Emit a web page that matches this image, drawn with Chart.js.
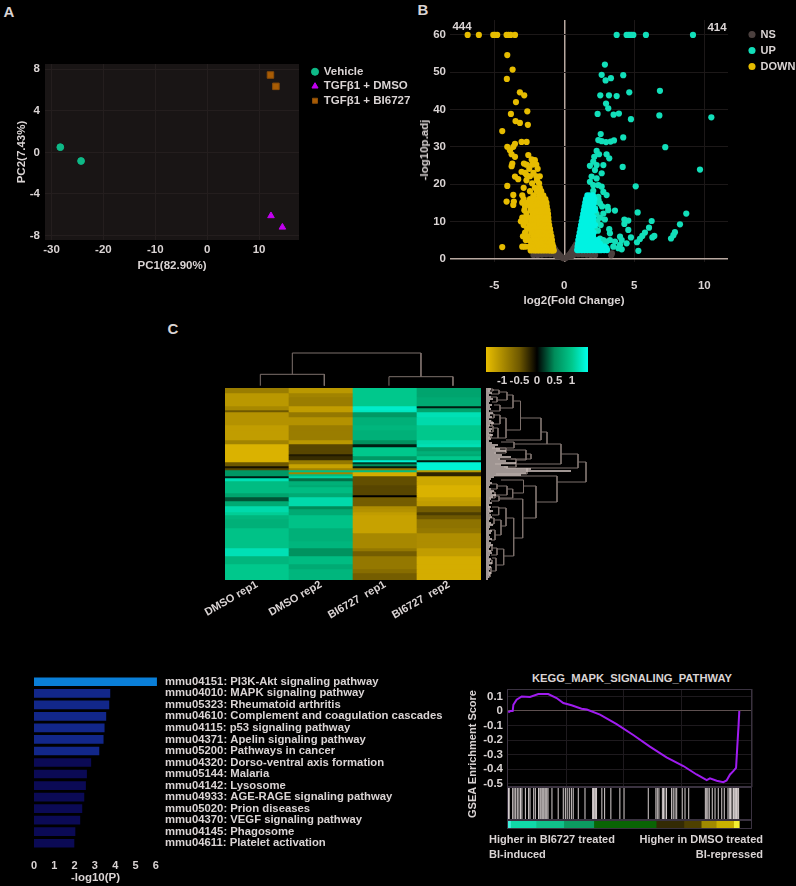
<!DOCTYPE html>
<html>
<head>
<meta charset="utf-8">
<title>BI6727 figure</title>
<script src="https://cdn.jsdelivr.net/npm/chart.js@4"></script>
<style>
  html, body { margin: 0; padding: 0; background: #000; }
  #page { position: relative; width: 796px; height: 886px; overflow: hidden; background: #000; }
  #page canvas { position: absolute; }
  .txt { position: absolute; white-space: nowrap; color: #dad4d4; font: bold 11.5px "Liberation Sans", Arial, sans-serif; transform: translate(-50%, -50%); }
</style>
</head>
<body>
<div id="page"></div>
<script>
// ---------- panel A: PCA ----------
const vehicleX = [-28.3, -24.3];
const vehicleY = [0.5, -0.83];
const dmsoX = [12.3, 14.5];
const dmsoY = [-6.1, -7.2];
const biX = [12.2, 13.25];
const biY = [7.44, 6.35];

// ---------- panel B: volcano ----------
const nsX = [-2.2, -1.9, -1.6, -1.3, -1, -0.85, -0.8, -0.75, -0.65, -0.65, -0.55, -0.5, -0.45, -0.35, -0.25, -0.15, -0.05, 0.05, 0.15, 0.25, 0.35, 0.45, 0.5, 0.55, 0.65, 0.65, 0.75, 0.8, 0.85, 1, 1.3, 1.6, 1.9, 2.2, 3.35, 3.4];
const nsY = [1, 1, 1.1, 1.2, 1.2, 3.6, 1.5, 3, 2.4, 1, 1.9, 0.6, 1.4, 1, 0.6, 0.3, 0.1, 0.1, 0.3, 0.6, 1, 1.5, 0.6, 2, 2.6, 1, 3.2, 1.5, 3.8, 1.2, 1.2, 1.1, 1, 1, 0.9, 1.4];

const upX = [3.74, 4.45, 4.57, 4.69, 4.81, 4.93, 5.83, 9.19, 2.9, 2.67, 3.33, 2.95, 4.21, 6.83, 4.64, 2.57, 3.19, 3.74, 2.98, 3.14, 2.38, 3.52, 3.9, 6.79, 10.5, 4.76, 2.6, 4.21, 2.43, 2.67, 2.98, 3.31, 3.55, 7.21, 2.31, 2.48, 3.02, 3.21, 2.14, 2.07, 4.17, 1.83, 2.31, 2.79, 9.69, 2.19, 2.67, 1.95, 2.31, 1.83, 5.1, 2.07, 2.43, 2.67, 2.07, 2.79, 3.02, 2.43, 3.62, 3.1, 3.14, 5.24, 8.71, 2.79, 6.24, 4.29, 4.57, 4.29, 8.26, 4.57, 3.21, 6.05, 4.76, 5.76, 5.57, 5.4, 5.19, 6.43, 6.29, 7.9, 7.79, 7.62, 5.29, 3.98, 4.1, 4.45, 3.98, 3.86, 4.1, 3.26, 3.62, 3.26, 3.02, 2.79, 2.55, 3.5, 3.02, 2.55, 2.79, 2.55, 2.2, 2.45, 2.7, 2.3, 2.55, 2.9, 2.35, 2.6, 2.2, 2.4, 2.15, 2.35];
const upY = [60, 60, 60, 60, 60, 60, 60, 60, 52.05, 49.3, 48.4, 47.8, 49.2, 45, 44.6, 43.8, 43.8, 43.6, 41.6, 40.3, 38.8, 38.6, 38.9, 38.4, 37.9, 37.4, 33.4, 32.5, 31.8, 31.5, 31.25, 31.4, 31.7, 29.9, 28.9, 28, 28, 26.9, 27.3, 26, 24.6, 24.9, 25.1, 25.1, 23.9, 23.75, 22.9, 22, 21.5, 20.6, 19.4, 19.7, 19.7, 19.3, 18.2, 17.9, 17.05, 16.6, 12.9, 13.9, 13, 12.4, 12.1, 12.1, 10.1, 10.5, 10.2, 9.3, 9.2, 7.7, 7.9, 8.3, 5.7, 7, 6.1, 5.3, 4.4, 6.1, 5.7, 7.1, 6.3, 5.4, 2.1, 5.9, 5, 4.1, 3.7, 2.8, 2.5, 6.8, 4.6, 5, 4.6, 5, 5.4, 3.2, 2.8, 2.3, 3.7, 14.8, 13.5, 15.7, 14, 12, 11, 10.5, 10, 9, 8, 7.5, 15, 16];

const upBodyY = [17, 16, 15, 14, 13, 12, 11, 10, 9, 8, 7, 6, 5, 4, 3.2, 2.3];
const upBodyX = [
  [1.65, 1.85, 2.05],
  [1.55, 1.75, 1.95, 2.15],
  [1.5, 1.7, 1.9, 2.1],
  [1.45, 1.65, 1.85, 2.05],
  [1.4, 1.6, 1.8, 2, 2.2],
  [1.35, 1.55, 1.75, 1.95],
  [1.3, 1.5, 1.7, 1.9, 2.1],
  [1.25, 1.45, 1.65, 1.85, 2.05],
  [1.2, 1.4, 1.6, 1.8, 2, 2.2],
  [1.15, 1.35, 1.55, 1.75, 1.95],
  [1.1, 1.3, 1.5, 1.7, 1.9, 2.1],
  [1.05, 1.25, 1.45, 1.65, 1.85, 2.05],
  [1, 1.2, 1.4, 1.6, 1.8, 2, 2.2, 2.4],
  [0.98, 1.15, 1.35, 1.55, 1.75, 1.95, 2.15, 2.35, 2.55],
  [0.95, 1.1, 1.3, 1.5, 1.7, 1.9, 2.1, 2.3, 2.5, 2.7, 2.9],
  [0.92, 1.05, 1.25, 1.45, 1.65, 1.85, 2.05, 2.25, 2.45, 2.65, 2.85, 3.05]
];

const downX = [-6.9, -6.1, -5.07, -4.95, -4.79, -4.12, -3.98, -3.83, -3.52, -4.07, -3.69, -4.1, -3.17, -2.86, -3.45, -2.64, -3.81, -3.48, -3.17, -2.6, -4.43, -3.52, -4.07, -3.05, -2.69, -3.64, -3.88, -3.76, -3.52, -3.71, -3.76, -2.88, -2.57, -2.33, -2.1, -3.05, -3.52, -3.29, -2.69, -4.07, -3.64, -4.12, -3.6, -3.64, -4.43];
const downY = [60, 60, 60, 60, 60, 60, 60, 60, 60, 54.6, 50.7, 48.2, 44.6, 43.8, 42, 39.5, 38.8, 36.9, 36.4, 35.9, 34.2, 30.8, 30, 31.3, 31.3, 30, 29.1, 28, 27.3, 25.5, 24.8, 25.5, 27.8, 26.6, 26.4, 23.3, 22, 21.3, 22.4, 19.5, 17.1, 15.3, 15.3, 14.4, 3.1];

const downBodyY = [25.2, 24.1, 23, 22.1, 21, 20.2, 19, 18.1, 17, 16, 15, 14, 13, 12, 11, 10, 9, 8, 7, 6, 5, 4, 3.2, 2.2];
const downBodyX = [
  [-2.7, -2.3, -2],
  [-2.5, -1.9],
  [-2.8, -2.2],
  [-2.45, -2, -1.75],
  [-2.7, -1.95],
  [-2.3, -1.8],
  [-2.9, -2.1, -1.75],
  [-2.45, -1.95, -1.65],
  [-3, -2.2, -1.8, -1.5],
  [-2.9, -2.45, -2.15, -1.9, -1.65, -1.45, -1.35],
  [-3, -2.6, -2.3, -1.95, -1.75, -1.55, -1.4, -1.28],
  [-2.8, -2.4, -2.05, -1.8, -1.6, -1.42, -1.25],
  [-2.85, -2.4, -2.1, -1.9, -1.7, -1.5, -1.32, -1.2],
  [-2.7, -2.25, -2.05, -1.85, -1.65, -1.45, -1.3, -1.16],
  [-3, -2.6, -2.3, -2.1, -1.9, -1.7, -1.5, -1.32, -1.14],
  [-3.1, -2.75, -2.35, -2.15, -1.95, -1.75, -1.55, -1.35, -1.12],
  [-2.9, -2.5, -2.2, -2, -1.8, -1.6, -1.4, -1.22, -1.08],
  [-2.65, -2.4, -2.15, -1.95, -1.75, -1.55, -1.35, -1.18, -1.02],
  [-2.8, -2.35, -2.1, -1.9, -1.7, -1.5, -1.3, -1.12, -0.98],
  [-2.95, -2.6, -2.2, -2, -1.8, -1.6, -1.4, -1.2, -1.02, -0.92],
  [-2.75, -2.5, -2.15, -1.95, -1.75, -1.55, -1.35, -1.15, -0.98, -0.88],
  [-2.35, -2.1, -1.9, -1.7, -1.5, -1.3, -1.1, -0.95, -0.85],
  [-3, -2.8, -2.5, -2.25, -2.05, -1.85, -1.65, -1.45, -1.25, -1.05, -0.9, -0.8],
  [-2.4, -2.15, -1.95, -1.75, -1.55, -1.35, -1.15, -0.98, -0.85, -0.75]
];

// ---------- panel C: heatmap ----------
const sampleNames = ['DMSO rep1', 'DMSO rep2', 'BI6727  rep1', 'BI6727  rep2'];
const rowHeights = [5, 4, 9, 2, 2, 2, 5, 8, 5, 10, 4, 3, 4, 3, 2, 4, 2, 2, 2, 2, 2, 2, 2, 2, 2, 3, 4,
  2, 6, 2, 2, 4, 5, 3, 3, 3, 4, 9, 5, 8, 7, 3, 5, 8, 5, 4, 7];
const dmsoRep1 = [-0.85, -1.1, -1.1, -0.95, -0.95, -0.5, -1.05, -1.05, -1.15, -1.15, -0.9, -1.35, -1.35, -1.35, -1.35, -1.35, -1.35, -0.5, -0.5, -0.1, -0.4, 0.6, 0.6, 0.6, 0.1, 1.2, 0.9,
  0.9, 0.9, 0.7, 0.7, 0.3, 0.75, 1.15, 1.15, 1.05, 0.85, 0.8, 0.95, 0.95, 0.95, 1.2, 1.2, 0.85, 1, 1, 1];
const dmsoRep2 = [-1.1, -0.9, -0.85, -1.15, -1.15, -1.15, -0.8, -1.05, -0.85, -0.85, -1.1, -0.4, -0.4, -0.4, -0.15, -0.25, -0.8, -0.8, -1.2, -1.2, -0.9, 0.9, -0.9, 0.9, 1.1, 0.4, 0.8,
  0.75, 0.9, 0.75, 0.75, 1.15, 1.15, 0.5, 0.75, 0.75, 0.95, 0.95, 0.8, 0.8, 0.85, 0.55, 0.55, 0.9, 0.75, 0.85, 0.85];
const biRep1 = [1, 1, 1, 1.3, 1.3, 1.25, 0.6, 0.8, 0.85, 0.8, 0.55, 0.1, 1, 1, 1, 0.6, 1.35, 0.2, 0.5, 0.1, -0.8, 0.9, -1.3, -1.3, -0.45, -0.45, -0.45,
  -0.4, -0.4, -0.4, 0, -0.55, -0.55, -1, -1.05, -1.15, -1.2, -1.2, -1.2, -0.95, -0.95, -0.8, -0.55, -0.8, -0.8, -0.7, -0.55];
const biRep2 = [0.7, 0.7, 0.75, 0.1, 0.7, 0.7, 1.2, 1.15, 1, 1, 1.15, 1.2, 0.65, 0.8, 0.75, 1, 0.1, 1.35, 1.35, 1.35, 1.35, -1.1, -0.2, -0.2, -1.25, -1.25, -1.25,
  -1.35, -1.35, -1.35, -1.35, -1.2, -1.15, -0.55, -0.55, -0.35, -0.5, -0.75, -0.8, -1, -1, -1.15, -1.15, -1.3, -1.3, -1.3, -1.3];
// gold -> black -> green -> cyan
const heatStops = [[-1.46, 232, 190, 0], [-0.5, 110, 88, 0], [0, 0, 0, 0], [0.5, 0, 140, 90], [1, 0, 200, 140], [1.46, 0, 255, 235]];
const colorbarRange = [-1.457, 1.457];

const topTreeX = [1.5, 1.5, 3.51, 3.51, NaN, 1, 1, 2, 2, NaN, 3.01, 3.01, 4.01, 4.01];
const topTreeY = [13.7, 35, 35, 11.3, NaN, 2.3, 13.7, 13.7, 2.3, NaN, 2.3, 11.3, 11.3, 2.3];

// right dendrogram: merge height, top and bottom row, and how far each arm reaches back
const treeH = [100, 92, 75, 61, 55, 34.5, 27, 21, 13, 11, 14, 7, 20, 14, 12, 8, 6, 7, 5, 28, 45, 40, 30, 20, 41, 71, 50, 37.5, 26.7, 21, 11, 9, 13, 36.7, 27.7, 20, 12.7, 15, 9, 8, 17.7, 11, 10, 6, 5, 6, 4, 4, 3];
const treeTop = [74, 66, 56, 44, 30, 13, 7, 4, 2, 9, 17, 1, 30, 27, 40, 26, 33, 38, 46, 54, 66, 62, 71, 60, 80, 88, 98, 92, 101, 98, 96, 104, 108, 111, 130, 120, 119, 132, 142, 130, 161, 160, 170, 172, 179, 158, 122, 184, 118];
const treeBottom = [94, 80, 76, 56, 52, 42, 20, 12, 6, 14, 23, 3, 50, 36, 50, 30, 38, 44, 50, 60, 71, 72, 79, 65, 86, 114, 130, 105, 110, 107, 101, 110, 113, 150, 168, 138, 127, 147, 152, 136, 177, 167, 183, 176, 186, 163, 125, 189, 120];
const treeTopTo = [92, 75, 61, 55, 34.5, 27, 21, 13, 7, 5, 8, 2, 14, 8, 7, 3, 3, 3, 2, 15, 39, 10, 12, 6, 20, 8, 37.5, 15, 21, 11, 4, 4, 5, 13, 20, 12.7, 6, 8, 4, 3, 11, 6, 6, 2, 2, 3, 2, 2, 2];
const treeBottomTo = [71, 41, 9, 28, 20, 20, 14, 11, 5, 6, 4, 2, 12, 6, 5, 3, 2, 3, 2, 10, 25, 30, 18, 8, 10, 50, 37.5, 26.7, 13, 9, 5, 3, 5, 27.7, 17.7, 15, 6, 9, 5, 3, 10, 5, 5, 3, 2, 2, 2, 2, 2];
// leaf length per 2px row of the heatmap
const leafLen = [5, 4, 6, 3, 5, 7, 4, 3, 6, 4, 5, 3, 7, 4, 6, 3, 5, 8, 4, 3, 6, 5, 3, 7, 4, 5, 3, 6,
  12, 9, 14, 20, 10, 16, 25, 14, 20, 30, 15, 22, 45, 85, 40, 35, 8, 5, 4, 6,
  4, 3, 5, 8, 6, 10, 7, 5, 4, 6, 3, 5, 4, 7, 3, 5, 6, 4, 3, 5, 7, 4, 3, 6, 5, 3, 4, 6, 3, 5, 7, 4, 3, 5, 6, 4, 3, 5, 4, 6, 3, 5, 4, 3, 5, 4, 3, 2];

// ---------- panel D: KEGG bars ----------
const pathwayNames = [
  'mmu04151: PI3K-Akt signaling pathway',
  'mmu04010: MAPK signaling pathway',
  'mmu05323: Rheumatoid arthritis',
  'mmu04610: Complement and coagulation cascades',
  'mmu04115: p53 signaling pathway',
  'mmu04371: Apelin signaling pathway',
  'mmu05200: Pathways in cancer',
  'mmu04320: Dorso-ventral axis formation',
  'mmu05144: Malaria',
  'mmu04142: Lysosome',
  'mmu04933: AGE-RAGE signaling pathway',
  'mmu05020: Prion diseases',
  'mmu04370: VEGF signaling pathway',
  'mmu04145: Phagosome',
  'mmu04611: Platelet activation'
];
const pathwayLogP = [6.04, 3.74, 3.69, 3.54, 3.46, 3.41, 3.2, 2.8, 2.59, 2.54, 2.46, 2.36, 2.26, 2.02, 1.97];
const pathwayColors = ['#0a7fd8', '#12278a', '#12278a', '#12278a', '#12278a', '#12278a', '#12278a', '#0b0a55', '#0b0a55', '#0b0a55', '#0b0a55', '#0b0a55', '#0b0a55', '#0b0a55', '#0b0a55'];

// ---------- panel E: GSEA ----------
const gseaRank = [0, 1, 1.9, 2.2, 3.6, 5.8, 9.4, 13, 17.3, 20.9, 23.8, 27.4, 31.7, 34, 39.7, 46.9, 54.1, 61.3, 68.5, 75.8, 81.5, 85.9, 87.3, 90.2, 93.1, 94.5, 96, 97.4, 98.6, 99.1, 99.7, 100];
const gseaScore = [-0.01, 0, 0, 0.043, 0.078, 0.1, 0.096, 0.116, 0.116, 0.089, 0.055, 0.039, 0.016, 0.01, -0.025, -0.09, -0.165, -0.245, -0.318, -0.378, -0.436, -0.475, -0.463, -0.479, -0.489, -0.477, -0.436, -0.413, -0.39, -0.253, -0.094, 0];
const gseaHits = [0.1, 0.4, 1.9, 2.5, 3.2, 3.9, 4.6, 5.3, 5.9, 7.4, 8.8, 9.4, 11, 11.7, 13.1, 13.7, 14.1, 14.6, 15, 15.4, 15.9, 16.3, 16.7, 17.2, 18.9, 21.6, 23.8, 24.7, 25.5, 26.4, 27.3, 28.1, 30.3, 33.2, 36.5, 36.9, 37.4, 37.8, 38.2, 40.5, 41.7, 44.4, 48.3, 50.1, 60.6, 63.9, 64.5, 65.2, 66.7, 67.2, 67.8, 68.5, 70.7, 71.4, 72.2, 72.9, 75.3, 76.5, 78.1, 85.3, 85.9, 86.4, 87, 88.3, 89.5, 90.9, 92.4, 93.5, 95.1, 95.7, 96.2, 96.8, 97.5, 98, 98.4, 98.8, 99.3, 99.7];
const stripWidths = [1, 11, 12, 13, 27, 12, 7.5, 6.5, 7.5, 2.5];
const stripColors = ['#40f0dc', '#10d8a8', '#10c08a', '#0c9a60', '#0a6404', '#332a04', '#4e4000', '#a08a00', '#c8b000', '#f4f030'];

const FONT = '"Liberation Sans", Arial, sans-serif';
const TXT = '#dad4d4';
Chart.defaults.font.family = FONT;
Chart.defaults.font.size = 11.5;
Chart.defaults.font.weight = 'bold';
Chart.defaults.color = TXT;
Chart.defaults.animation = false;
Chart.defaults.responsive = false;
Chart.defaults.events = [];
Chart.defaults.plugins.tooltip.enabled = false;
Chart.defaults.plugins.legend.display = false;

// background, frame and legend position per canvas
Chart.register({
    id: 'panelBox',
    beforeDraw(chart, args, opts) {
        if (opts.fill) {
            const a = chart.chartArea;
            chart.ctx.fillStyle = opts.fill;
            chart.ctx.fillRect(a.left, a.top, a.width, a.height);
        }
    },
    afterDraw(chart, args, opts) {
        if (opts.stroke) {
            const a = chart.chartArea;
            chart.ctx.strokeStyle = opts.stroke;
            chart.ctx.lineWidth = 1;
            chart.ctx.strokeRect(a.left + 0.5, a.top + 0.5, a.width - 1, a.height - 1);
        }
    },
    afterLayout(chart, args, opts) {
        if (opts.legendX !== undefined) {
            chart.legend.left = opts.legendX;
            chart.legend.top = opts.legendY;
            chart.legend.right = chart.width;
            chart.legend.bottom = chart.height;
        }
    }
});

const page = document.getElementById('page');

function addCanvas(x, y, w, h) {
    const c = document.createElement('canvas');
    c.width = w;
    c.height = h;
    c.style.left = x + 'px';
    c.style.top = y + 'px';
    c.style.width = w + 'px';
    c.style.height = h + 'px';
    page.appendChild(c);
    return c;
}

function label(text, x, y, extra) {
    const d = document.createElement('div');
    d.className = 'txt';
    d.textContent = text;
    d.style.left = x + 'px';
    d.style.top = y + 'px';
    if (extra) Object.assign(d.style, extra);
    page.appendChild(d);
}

function zip(xs, ys) {
    return xs.map((x, i) => ({ x: x, y: ys[i] }));
}

function rows(ys, xRows) {
    return ys.flatMap((y, i) => xRows[i].map(x => ({ x: x, y: y })));
}

// force the axis size so the plot area lands where it should
function fitWidth(w) {
    return s => { s.width = w; s.paddingTop = s.paddingBottom = s.paddingLeft = s.paddingRight = 0; };
}
function fitHeight(h) {
    return s => { s.height = h; s.paddingTop = s.paddingBottom = s.paddingLeft = s.paddingRight = 0; };
}

function heatColor(v) {
    for (let i = 1; i < heatStops.length; i++) {
        if (v <= heatStops[i][0]) {
            const a = heatStops[i - 1], b = heatStops[i];
            const t = Math.max(0, (v - a[0]) / (b[0] - a[0]));
            return `rgb(${a[1] + (b[1] - a[1]) * t},${a[2] + (b[2] - a[2]) * t},${a[3] + (b[3] - a[3]) * t})`;
        }
    }
    return 'rgb(0,255,235)';
}

// panel letters
label('A', 9, 11, { fontSize: '15px' });
label('B', 423, 9, { fontSize: '15px' });
label('C', 173, 328, { fontSize: '15px' });

// ---------- A ----------
new Chart(addCanvas(0, 50, 420, 240), {
    type: 'scatter',
    data: {
        datasets: [
            { label: 'Vehicle', data: zip(vehicleX, vehicleY), pointStyle: 'circle', pointRadius: 3.4, backgroundColor: '#0eb987', borderColor: '#0eb987' },
            { label: 'TGFβ1 + DMSO', data: zip(dmsoX, dmsoY), pointStyle: 'triangle', pointRadius: 3.8, backgroundColor: '#c400f2', borderColor: '#c400f2' },
            { label: 'TGFβ1 + BI6727', data: zip(biX, biY), pointStyle: 'rect', pointRadius: 4.6, backgroundColor: '#a85c04', borderColor: '#8a4c08' }
        ]
    },
    options: {
        layout: { padding: { top: 14, right: 121 } },
        scales: {
            x: {
                min: -31.25, max: 17.7,
                ticks: { stepSize: 10, includeBounds: false, padding: 3 },
                grid: { color: '#241e1e', drawTicks: false },
                border: { display: false },
                title: { display: true, text: 'PC1(82.90%)', padding: { top: 0, bottom: 17 } },
                afterFit: fitHeight(50)
            },
            y: {
                min: -8.43, max: 8.5,
                ticks: { stepSize: 4, includeBounds: false, padding: 5 },
                grid: { color: '#241e1e', drawTicks: false },
                border: { display: false },
                title: { display: true, text: 'PC2(7.43%)', padding: { top: 15, bottom: 0 } },
                afterFit: fitWidth(45)
            }
        },
        plugins: {
            panelBox: { fill: '#191515', legendX: 309, legendY: 13 },
            legend: {
                display: true,
                position: 'chartArea',
                align: 'start',
                labels: { usePointStyle: true, boxWidth: 6, boxHeight: 5, padding: 3, font: { size: 11.5, weight: 'bold' }, color: TXT }
            }
        }
    }
});

// ---------- B ----------
new Chart(addCanvas(400, 0, 396, 320), {
    type: 'scatter',
    data: {
        datasets: [
            { label: 'NS', order: 4, data: zip(nsX, nsY), backgroundColor: '#4b403e', borderColor: '#4b403e' },
            { label: 'UP', order: 3, data: zip(upX, upY), backgroundColor: '#12dfba', borderColor: '#12dfba' },
            { label: 'DOWN', order: 1, data: zip(downX, downY).concat(rows(downBodyY, downBodyX)), backgroundColor: '#e6bc00', borderColor: '#e6bc00' },
            { label: 'UP body', order: 2, data: rows(upBodyY, upBodyX), backgroundColor: '#00f2e2', borderColor: '#00f2e2' }
        ]
    },
    options: {
        elements: { point: { radius: 3.1, borderWidth: 0 } },
        layout: { padding: { top: 20, right: 68 } },
        scales: {
            x: {
                min: -8.16, max: 11.69,
                ticks: { stepSize: 5, includeBounds: false, padding: 17, font: { size: 11.5 } },
                grid: { color: c => c.tick.value === 0 ? '#b8a8a0' : '#1c1818', lineWidth: c => c.tick.value === 0 ? 1.5 : 1, drawTicks: false },
                border: { display: false },
                afterFit: fitHeight(58)
            },
            y: {
                min: -0.9, max: 64,
                ticks: { stepSize: 10, includeBounds: false, padding: 4 },
                grid: { color: c => c.tick.value === 0 ? '#b8a8a0' : '#1c1818', lineWidth: c => c.tick.value === 0 ? 1.5 : 1, drawTicks: false },
                border: { display: false },
                afterFit: fitWidth(50)
            }
        },
        plugins: {
            panelBox: { legendX: 344, legendY: 24 },
            legend: {
                display: true,
                position: 'chartArea',
                align: 'start',
                labels: {
                    usePointStyle: true, boxWidth: 6, boxHeight: 5, padding: 5, color: TXT,
                    font: { size: 11, weight: 'bold' },
                    filter: item => item.text !== 'UP body',
                    sort: (a, b) => a.datasetIndex - b.datasetIndex
                }
            }
        }
    }
});
label('444', 462, 26);
label('414', 717, 27);
label('log2(Fold Change)', 574, 300);
label('-log10p.adj', 424, 150, { transform: 'translate(-50%, -50%) rotate(-90deg)' });

// ---------- C: heatmap ----------
const heatColumns = [dmsoRep1, dmsoRep2, biRep1, biRep2];
new Chart(addCanvas(160, 388, 330, 260), {
    type: 'bar',
    data: {
        labels: sampleNames,
        datasets: rowHeights.map((h, r) => ({
            data: heatColumns.map(() => h),
            backgroundColor: heatColumns.map(col => heatColor(col[r])),
            borderWidth: 0,
            barPercentage: 1,
            categoryPercentage: 1,
            stack: 'rows'
        }))
    },
    options: {
        layout: { padding: { left: 65, right: 9 } },
        scales: {
            x: {
                stacked: true,
                grid: { display: false, drawTicks: false },
                border: { display: false },
                ticks: { minRotation: 30, maxRotation: 30, padding: -2, autoSkip: false, font: { size: 11 } },
                afterFit: fitHeight(68)
            },
            y: { stacked: true, display: false, reverse: true, min: 0, max: 192 }
        }
    }
});

// top dendrogram
new Chart(addCanvas(225, 350, 256, 38), {
    type: 'scatter',
    data: { datasets: [{ data: zip(topTreeX, topTreeY), showLine: true, spanGaps: false, pointRadius: 0, borderWidth: 1, borderColor: '#7d706c' }] },
    options: {
        scales: {
            x: { display: false, min: 0.448, max: 4.448 },
            y: { display: false, min: 0, max: 38 }
        }
    }
});

// right dendrogram
const treeLines = treeH.flatMap((h, i) => [
    { x: treeTopTo[i], y: treeTop[i] },
    { x: h, y: treeTop[i] },
    { x: h, y: treeBottom[i] },
    { x: treeBottomTo[i], y: treeBottom[i] },
    { x: NaN, y: NaN }
]);
const leafLines = leafLen.flatMap((len, i) => [
    { x: 0, y: i * 2 + 1 },
    { x: len, y: i * 2 + 1 },
    { x: NaN, y: NaN }
]);
new Chart(addCanvas(486, 388, 106, 192), {
    type: 'scatter',
    data: {
        datasets: [
            { data: leafLines, showLine: true, spanGaps: false, pointRadius: 0, borderWidth: 1.5, borderColor: '#d4c6c2' },
            { data: treeLines, showLine: true, spanGaps: false, pointRadius: 0, borderWidth: 1, borderColor: '#7d706c' }
        ]
    },
    options: {
        scales: {
            x: { display: false, min: 0, max: 106 },
            y: { display: false, min: 0, max: 192, reverse: true }
        }
    }
});

// colour key
new Chart(addCanvas(470, 347, 130, 44), {
    type: 'bar',
    data: {
        labels: [''],
        datasets: [{
            data: [colorbarRange],
            barPercentage: 1,
            categoryPercentage: 1,
            borderWidth: 0,
            backgroundColor: ctx => {
                const a = ctx.chart.chartArea;
                if (!a) return '#000';
                const g = ctx.chart.ctx.createLinearGradient(a.left, 0, a.right, 0);
                heatStops.forEach(st => {
                    const t = (st[0] - colorbarRange[0]) / (colorbarRange[1] - colorbarRange[0]);
                    g.addColorStop(Math.min(1, Math.max(0, t)), `rgb(${st[1]},${st[2]},${st[3]})`);
                });
                return g;
            }
        }]
    },
    options: {
        indexAxis: 'y',
        layout: { padding: { left: 16, right: 12 } },
        scales: {
            x: {
                min: colorbarRange[0], max: colorbarRange[1],
                grid: { display: false, drawTicks: false },
                border: { display: false },
                ticks: { stepSize: 0.5, includeBounds: false, autoSkip: false, minRotation: 0, maxRotation: 0, padding: 2, callback: v => +v.toFixed(1) },
                afterFit: fitHeight(19)
            },
            y: { display: false }
        }
    }
});

// ---------- D ----------
new Chart(addCanvas(0, 676, 450, 210), {
    type: 'bar',
    data: {
        labels: pathwayNames,
        datasets: [{ data: pathwayLogP, backgroundColor: pathwayColors, barThickness: 8, borderWidth: 0 }]
    },
    options: {
        indexAxis: 'y',
        layout: { padding: { left: 34 } },
        scales: {
            x: {
                min: 0, max: 6.06,
                grid: { display: false, drawTicks: false },
                border: { display: false },
                ticks: { stepSize: 1, includeBounds: false, padding: 10, font: { size: 11 } },
                title: { display: true, text: '-log10(P)', padding: { top: 0, bottom: 1 } },
                afterFit: fitHeight(37)
            },
            y: {
                position: 'right',
                grid: { display: false, drawTicks: false },
                border: { display: false },
                ticks: { autoSkip: false, crossAlign: 'near', padding: 8, font: { size: 11.3 } },
                afterFit: fitWidth(293)
            }
        }
    }
});

// ---------- E ----------
const rankMin = -0.56, rankMax = 105.5;
new Chart(addCanvas(460, 685, 300, 110), {
    type: 'scatter',
    data: { datasets: [{ data: zip(gseaRank, gseaScore), showLine: true, pointRadius: 0, borderWidth: 2, borderColor: '#a01cf0' }] },
    options: {
        layout: { padding: { top: 4, right: 8, bottom: 8 } },
        scales: {
            x: {
                min: rankMin, max: rankMax,
                ticks: { display: false, stepSize: 25 },
                grid: { color: '#1e1a1e', drawTicks: false },
                border: { display: false },
                afterFit: fitHeight(0)
            },
            y: {
                min: -0.522, max: 0.151,
                ticks: { stepSize: 0.1, includeBounds: false, autoSkip: false, padding: 4, callback: v => +v.toFixed(1) },
                grid: { color: c => Math.abs(c.tick.value) < 1e-6 ? '#5e5050' : '#1e1a1e', drawTicks: false },
                border: { display: false },
                afterFit: fitWidth(47)
            }
        },
        plugins: { panelBox: { stroke: '#3a3240' } }
    }
});
// gene hits as thin bars on a linear rank axis
new Chart(addCanvas(507, 787, 245, 33), {
    type: 'bar',
    data: { datasets: [{ data: gseaHits.map(h => ({ x: h, y: 1 })), barThickness: 1, inflateAmount: 0, backgroundColor: '#d8d0d0', borderWidth: 0 }] },
    options: {
        scales: {
            x: { type: 'linear', display: false, offset: false, min: rankMin, max: rankMax },
            y: { display: false, min: 0, max: 1.03 }
        },
        plugins: { panelBox: { stroke: '#3a3240' } }
    }
});
new Chart(addCanvas(507, 820, 245, 9), {
    type: 'bar',
    data: {
        labels: [''],
        datasets: stripWidths.map((w, i) => ({ data: [w], backgroundColor: stripColors[i], borderWidth: 0, barPercentage: 1, categoryPercentage: 1, stack: 'rank' }))
    },
    options: {
        indexAxis: 'y',
        scales: {
            x: { stacked: true, display: false, min: rankMin, max: rankMax },
            y: { stacked: true, display: false }
        },
        plugins: { panelBox: { stroke: '#3a3240' } }
    }
});
label('KEGG_MAPK_SIGNALING_PATHWAY', 632, 678, { fontSize: '11.2px' });
label('GSEA Enrichment Score', 472, 754, { transform: 'translate(-50%, -50%) rotate(-90deg)', fontSize: '11px' });
label('Higher in BI6727 treated', 489, 839, { transform: 'translate(0, -50%)', fontSize: '11px' });
label('BI-induced', 489, 853.5, { transform: 'translate(0, -50%)', fontSize: '11px' });
label('Higher in DMSO treated', 763, 839, { transform: 'translate(-100%, -50%)', fontSize: '11px' });
label('BI-repressed', 763, 853.5, { transform: 'translate(-100%, -50%)', fontSize: '11px' });
</script>
</body>
</html>
